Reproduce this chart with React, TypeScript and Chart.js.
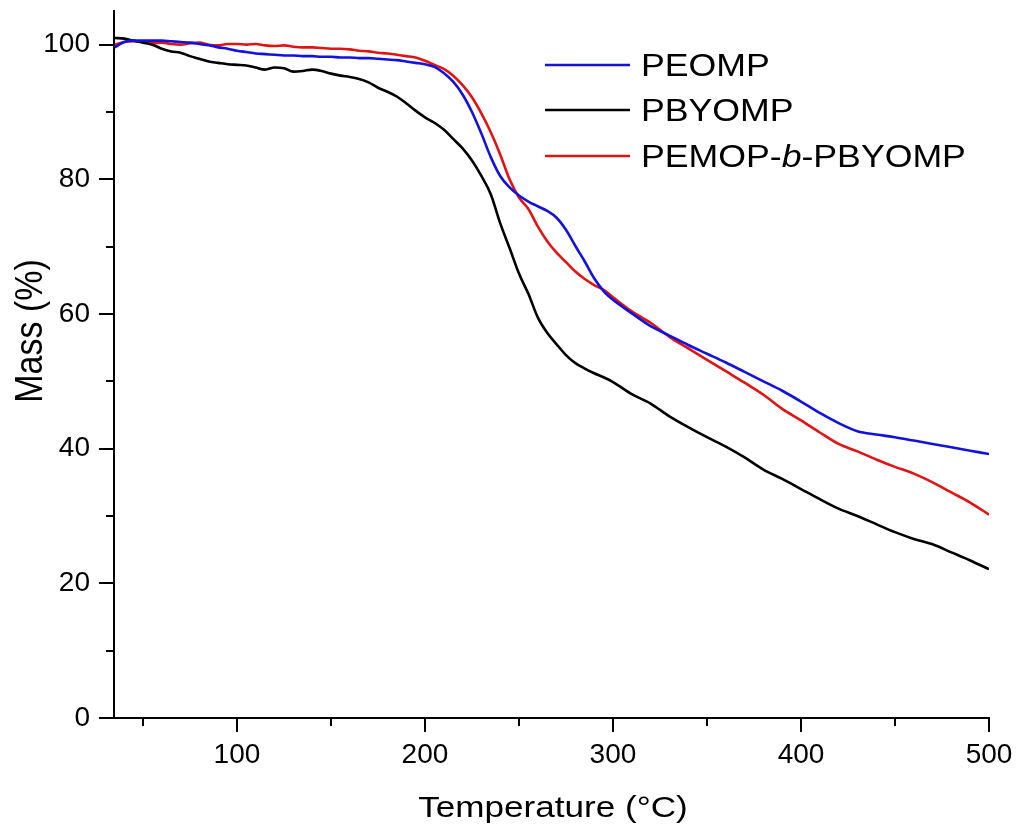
import React, { useEffect, useRef } from "react";
import { Chart, registerables } from "chart.js";

Chart.register(...registerables);

// Temperature grid (°C)
const temperatures = [
  35, 40, 45, 50, 55, 60, 65, 70, 75, 80,
  85, 90, 95, 100, 105, 110, 115, 120, 125, 130,
  135, 140, 145, 150, 155, 160, 165, 170, 175, 180,
  185, 190, 195, 200, 205, 210, 215, 220, 225, 230,
  235, 240, 245, 250, 255, 260, 265, 270, 275, 280,
  285, 290, 295, 300, 310, 320, 330, 340, 350, 360,
  370, 380, 390, 400, 410, 420, 430, 440, 450, 460,
  470, 480, 490, 500,
];

// Mass (%) – PEOMP (blue)
const peomp = [
  99.6, 100.4, 100.6, 100.6, 100.6, 100.6, 100.5, 100.4, 100.3, 100.1,
  99.9, 99.6, 99.4, 99.1, 98.9, 98.7, 98.6, 98.5, 98.4, 98.4,
  98.3, 98.3, 98.2, 98.2, 98.1, 98.1, 98.0, 98.0, 97.9, 97.8,
  97.7, 97.5, 97.3, 97.1, 96.7, 95.8, 94.5, 92.6, 90.0, 86.8,
  83.3, 80.5, 78.8, 77.6, 76.7, 76.0, 75.3, 74.3, 72.5, 70.1,
  67.8, 65.3, 63.4, 62.1, 60.1, 58.2, 56.8, 55.4, 54.1, 52.8,
  51.4, 50.0, 48.6, 47.0, 45.3, 43.8, 42.6, 42.1, 41.7, 41.2,
  40.7, 40.2, 39.7, 39.2,
];

// Mass (%) – PBYOMP (black)
const pbyomp = [
  101.0, 100.9, 100.6, 100.3, 100.0, 99.4, 99.0, 98.8, 98.3, 97.9,
  97.5, 97.3, 97.1, 97.0, 96.9, 96.6, 96.3, 96.6, 96.5, 96.0,
  96.1, 96.3, 96.1, 95.7, 95.4, 95.2, 94.9, 94.4, 93.6, 93.0,
  92.3, 91.3, 90.2, 89.2, 88.4, 87.4, 86.0, 84.6, 82.8, 80.5,
  77.8, 73.5, 69.8, 66.0, 63.0, 59.5, 57.2, 55.5, 53.9, 52.7,
  51.9, 51.2, 50.6, 49.9, 48.1, 46.7, 44.8, 43.2, 41.7, 40.3,
  38.7, 36.9, 35.5, 34.0, 32.5, 31.1, 30.0, 28.8, 27.6, 26.6,
  25.8, 24.6, 23.4, 22.1,
];

// Mass (%) – PEMOP-b-PBYOMP (red)
const blockCopolymer = [
  100.0, 100.4, 100.5, 100.4, 100.2, 100.3, 100.1, 100.0, 100.2, 100.3,
  100.0, 99.9, 100.1, 100.1, 100.0, 100.1, 99.9, 99.8, 99.9, 99.7,
  99.6, 99.6, 99.5, 99.4, 99.4, 99.3, 99.1, 99.0, 98.8, 98.7,
  98.5, 98.3, 98.1, 97.6, 97.0, 96.4, 95.4, 94.0, 92.2, 89.8,
  87.0, 83.7, 80.0, 77.3, 75.6, 73.0, 70.8, 69.1, 67.7, 66.3,
  65.2, 64.3, 63.6, 62.5, 60.4, 58.7, 56.6, 54.9, 53.2, 51.5,
  49.8, 48.0, 45.9, 44.2, 42.4, 40.7, 39.6, 38.4, 37.3, 36.3,
  35.0, 33.5, 32.0, 30.2,
];

const seriesNames = ["PEOMP", "PBYOMP", "PEMOP-b-PBYOMP"];
const seriesColors = ["#1212dc", "#000000", "#e01414"];

const xMajorTicks = [100, 200, 300, 400, 500];
const xMinorTicks = [50, 150, 250, 350, 450];
const yMajorTicks = [0, 20, 40, 60, 80, 100];
const yMinorTicks = [10, 30, 50, 70, 90];

const xTitle = "Temperature (°C)";
const yTitle = "Mass (%)";

const FONT = "'Liberation Sans', Arial, sans-serif";

function drawStretched(ctx: CanvasRenderingContext2D, parts: { text: string; italic?: boolean }[], x: number, y: number, size: number, sx: number) {
  ctx.save();
  ctx.translate(x, y);
  ctx.scale(sx, 1);
  ctx.textAlign = "left";
  ctx.textBaseline = "alphabetic";
  let cx = 0;
  for (const p of parts) {
    ctx.font = `${p.italic ? "italic " : ""}${size}px ${FONT}`;
    ctx.fillText(p.text, cx, 0);
    cx += ctx.measureText(p.text).width;
  }
  ctx.restore();
}

const decorPlugin = {
  id: "decor",
  afterDraw(chart: any) {
    const ctx: CanvasRenderingContext2D = chart.ctx;
    const xs = chart.scales.x;
    const ys = chart.scales.y;
    const { left, bottom } = chart.chartArea;
    ctx.save();
    ctx.strokeStyle = "#000";
    ctx.lineWidth = 2;
    ctx.beginPath();
    xMajorTicks.forEach((v) => {
      const p = Math.round(xs.getPixelForValue(v));
      ctx.moveTo(p, bottom);
      ctx.lineTo(p, bottom + 14);
    });
    xMinorTicks.forEach((v) => {
      const p = Math.round(xs.getPixelForValue(v));
      ctx.moveTo(p, bottom);
      ctx.lineTo(p, bottom + 8);
    });
    yMajorTicks.forEach((v) => {
      const p = Math.round(ys.getPixelForValue(v));
      ctx.moveTo(left, p);
      ctx.lineTo(left - 15, p);
    });
    yMinorTicks.forEach((v) => {
      const p = Math.round(ys.getPixelForValue(v));
      ctx.moveTo(left, p);
      ctx.lineTo(left - 8, p);
    });
    ctx.stroke();

    ctx.fillStyle = "#000";
    // x title
    ctx.font = `30px ${FONT}`;
    const xw = ctx.measureText(xTitle).width * 1.17;
    drawStretched(ctx, [{ text: xTitle }], 553 - xw / 2, 817, 30, 1.17);

    // y title
    ctx.save();
    ctx.translate(42, 331);
    ctx.rotate(-Math.PI / 2);
    ctx.scale(1, 1.12);
    ctx.font = `34px ${FONT}`;
    ctx.textAlign = "center";
    ctx.textBaseline = "alphabetic";
    ctx.fillText(yTitle, 0, 0);
    ctx.restore();

    // legend
    const rows = [65, 110, 156];
    seriesNames.forEach((name, i) => {
      const y = rows[i];
      ctx.strokeStyle = seriesColors[i];
      ctx.lineWidth = 2.6;
      ctx.beginPath();
      ctx.moveTo(545, y);
      ctx.lineTo(630, y);
      ctx.stroke();
      ctx.fillStyle = "#000";
      let parts: { text: string; italic?: boolean }[];
      const m = name.match(/^(.*-)(b)(-.*)$/);
      if (m) parts = [{ text: m[1] }, { text: m[2], italic: true }, { text: m[3] }];
      else parts = [{ text: name }];
      drawStretched(ctx, parts, 641, y + 10.5, 31, 1.15);
    });
    ctx.restore();
  },
};

function zeroPadding(s: any) {
  s.paddingTop = 0;
  s.paddingBottom = 0;
  s.paddingLeft = 0;
  s.paddingRight = 0;
}

export default function App() {
  const ref = useRef<HTMLCanvasElement>(null);
  useEffect(() => {
    if (!ref.current) return;
    const seriesValues = [peomp, pbyomp, blockCopolymer];
    const chart = new Chart(ref.current, {
      type: "line",
      data: {
        datasets: seriesValues.map((vals, i) => ({
          label: seriesNames[i],
          data: temperatures.map((t, k) => ({ x: t, y: vals[k] })),
          borderColor: seriesColors[i],
          backgroundColor: seriesColors[i],
          borderWidth: 2.6,
          pointRadius: 0,
          cubicInterpolationMode: "monotone" as const,
          fill: false,
        })),
      },
      options: {
        responsive: false,
        animation: false,
        devicePixelRatio: 1,
        layout: { padding: { top: 11, right: 29, left: 0, bottom: 0 } },
        plugins: { legend: { display: false }, tooltip: { enabled: false } },
        scales: {
          x: {
            type: "linear",
            min: 34.6,
            max: 500,
            grid: { display: false, drawTicks: false },
            border: { display: true, color: "#000", width: 2 },
            afterBuildTicks: (s: any) => {
              s.ticks = xMajorTicks.map((v) => ({ value: v }));
            },
            afterFit: (s: any) => {
              s.height = 109;
              zeroPadding(s);
            },
            ticks: {
              color: "#000",
              padding: 20,
              maxRotation: 0,
              autoSkip: false,
              font: { family: FONT, size: 28 },
              callback: (v: any) => String(v),
            },
          },
          y: {
            type: "linear",
            min: 0,
            max: 105,
            grid: { display: false, drawTicks: false },
            border: { display: true, color: "#000", width: 2 },
            afterBuildTicks: (s: any) => {
              s.ticks = yMajorTicks.map((v) => ({ value: v }));
            },
            afterFit: (s: any) => {
              s.width = 114;
              zeroPadding(s);
            },
            ticks: {
              color: "#000",
              padding: 24,
              autoSkip: false,
              font: { family: FONT, size: 28 },
              callback: (v: any) => String(v),
            },
          },
        },
      },
      plugins: [decorPlugin],
    });
    return () => chart.destroy();
  }, []);
  return (
    <div style={{ position: "fixed", left: 0, top: 0, width: 1018, height: 827, background: "#fff" }}>
      <canvas ref={ref} width={1018} height={827} style={{ display: "block" }} />
    </div>
  );
}
